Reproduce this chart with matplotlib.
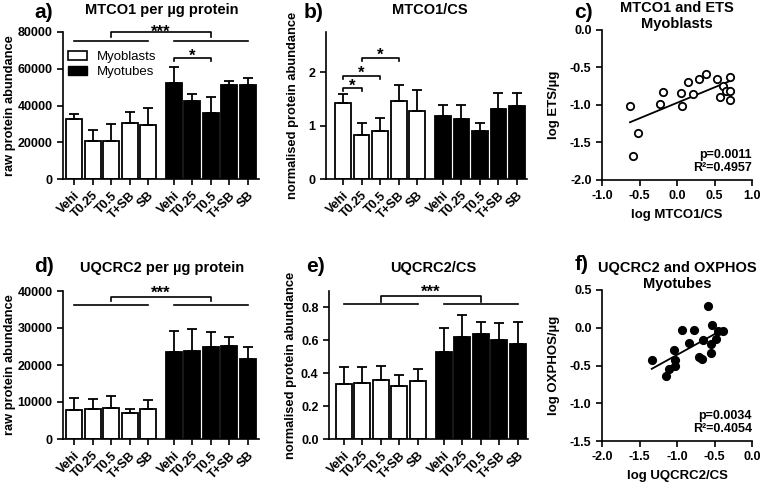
import numpy as np
import matplotlib
matplotlib.use('Agg')
import matplotlib.pyplot as plt
from matplotlib.patches import Patch

plt.rcParams['font.family'] = ['Liberation Sans', 'DejaVu Sans']
plt.rcParams['font.weight'] = 'bold'
plt.rcParams['axes.linewidth'] = 1.2

#data
groups = ['Vehi', 'T0.25', 'T0.5', 'T+SB', 'SB']

mtco1_raw_mb = [32500, 20500, 20800, 30500, 29500]
mtco1_raw_mb_err = [2700, 6000, 9300, 6000, 9200]
mtco1_raw_mt = [52300, 42500, 36000, 51300, 51000]
mtco1_raw_mt_err = [8800, 4000, 8600, 1800, 4200]

mtco1_cs_mb = [1.43, 0.83, 0.89, 1.46, 1.27]
mtco1_cs_mb_err = [0.16, 0.22, 0.26, 0.29, 0.39]
mtco1_cs_mt = [1.17, 1.13, 0.90, 1.31, 1.37]
mtco1_cs_mt_err = [0.22, 0.25, 0.14, 0.30, 0.24]

uqcrc2_raw_mb = [7800, 8200, 8300, 6900, 8200]
uqcrc2_raw_mb_err = [3400, 2600, 3200, 1200, 2400]
uqcrc2_raw_mt = [23500, 23800, 24800, 25200, 21500]
uqcrc2_raw_mt_err = [5700, 5800, 4000, 2300, 3300]

uqcrc2_cs_mb = [0.335, 0.34, 0.36, 0.325, 0.35]
uqcrc2_cs_mb_err = [0.105, 0.10, 0.085, 0.065, 0.075]
uqcrc2_cs_mt = [0.527, 0.621, 0.636, 0.60, 0.58]
uqcrc2_cs_mt_err = [0.15, 0.136, 0.073, 0.105, 0.13]

# c) scatter, myoblasts
mtco1_x = [-0.627, -0.516, -0.582, -0.227, -0.191, 0.053, 0.067, 0.151, 0.218,
           0.289, 0.391, 0.533, 0.613, 0.578, 0.702, 0.653, 0.711, 0.702]
ets_y = [-1.02, -1.38, -1.68, -0.987, -0.83, -0.845, -1.013, -0.70, -0.853,
         -0.658, -0.582, -0.649, -0.747, -0.898, -0.622, -0.818, -0.809, -0.938]

# f) scatter, myotubes
uqcrc2_x = [-1.337, -1.151, -1.111, -1.04, -1.027, -1.027, -0.933, -0.84, -0.769,
            -0.707, -0.662, -0.649, -0.591, -0.538, -0.547, -0.547, -0.48, -0.449, -0.382]
oxphos_y = [-0.427, -0.639, -0.551, -0.295, -0.427, -0.507, -0.030, -0.198, -0.030,
            -0.383, -0.414, -0.162, 0.288, 0.036, -0.220, -0.330, -0.145, -0.039, -0.039]

W, H = 760, 487
fig = plt.figure(figsize=(W / 100, H / 100), dpi=100)


def px_axes(left, top, right, bottom):
    return fig.add_axes([left / W, 1 - bottom / H, (right - left) / W, (bottom - top) / H])


def px_text(x, y, s, **kw):
    fig.text(x / W, 1 - y / H, s, **kw)


x_mb = np.arange(5)
x_mt = np.arange(5) + 5.4
x_all = np.concatenate([x_mb, x_mt])
TICK_FS = 9


def bar_panel(ax, mb, mb_err, mt, mt_err, ylim, yticks, xlim):
    ax.bar(x_mb, mb, width=0.86, color='white', edgecolor='black', linewidth=1.3)
    ax.bar(x_mt, mt, width=0.86, color='black', edgecolor='black', linewidth=1.3)
    ax.errorbar(x_mb, mb, yerr=[np.zeros(5), mb_err], fmt='none', ecolor='black',
                elinewidth=1.3, capsize=3.6, capthick=1.3)
    ax.errorbar(x_mt, mt, yerr=[np.zeros(5), mt_err], fmt='none', ecolor='black',
                elinewidth=1.3, capsize=3.6, capthick=1.3)
    ax.set_ylim(*ylim)
    ax.set_xlim(*xlim)
    ax.set_yticks(yticks)
    ax.set_xticks(x_all)
    ax.set_xticklabels(groups * 2, rotation=45, ha='right', rotation_mode='anchor',
                       fontsize=TICK_FS, fontweight='bold')
    ax.tick_params(axis='y', labelsize=TICK_FS, width=1.2, length=4)
    ax.tick_params(axis='x', width=1.2, length=4)
    ax.spines['top'].set_visible(False)
    ax.spines['right'].set_visible(False)


def bracket(ax, x1, x2, y, drop, text=None, tpad=0):
    ax.plot([x1, x1, x2, x2], [y - drop, y, y, y - drop], color='black', lw=1.2, clip_on=False)
    if text:
        ax.text((x1 + x2) / 2, y + tpad, text, ha='center', va='bottom',
                fontsize=12, fontweight='bold')


def hline(ax, x1, x2, y):
    ax.plot([x1, x2], [y, y], color='black', lw=1.2, clip_on=False)


#a
ax1 = px_axes(63, 32, 259, 179)
bar_panel(ax1, mtco1_raw_mb, mtco1_raw_mb_err, mtco1_raw_mt, mtco1_raw_mt_err,
          (0, 80000), [0, 20000, 40000, 60000, 80000], (-0.6, 10.0))
ax1.set_ylabel('raw protein abundance', fontsize=9.3, fontweight='bold', labelpad=1)
hline(ax1, x_mb[0], x_mb[4], 75000)
hline(ax1, x_mt[0], x_mt[4], 75000)
bracket(ax1, x_mb[2], x_mt[2], 80000, 2500, '***', -4200)
bracket(ax1, x_mt[0], x_mt[2], 66000, 2000, '*', -3200)
ax1.legend(handles=[Patch(facecolor='white', edgecolor='black', linewidth=1.2, label='Myoblasts'),
                    Patch(facecolor='black', edgecolor='black', label='Myotubes')],
           loc='upper left', bbox_to_anchor=(0.0, 0.91), frameon=False,
           prop={'size': 9.5, 'weight': 'normal'}, handlelength=1.4, handleheight=0.7,
           handletextpad=0.8, labelspacing=0.25, borderaxespad=0)

#b
ax2 = px_axes(326, 32, 527, 179)
bar_panel(ax2, mtco1_cs_mb, mtco1_cs_mb_err, mtco1_cs_mt, mtco1_cs_mt_err,
          (0, 2.75), [0, 1, 2], (-0.92, 9.94))
ax2.set_ylabel('normalised protein abundance', fontsize=9.3, fontweight='bold', labelpad=7)
bracket(ax2, x_mb[0], x_mb[1], 1.70, 0.06, '*', -0.1)
bracket(ax2, x_mb[0], x_mb[2], 1.93, 0.06, '*', -0.1)
bracket(ax2, x_mb[1], x_mb[3], 2.27, 0.06, '*', -0.1)

#d
ax4 = px_axes(63, 291, 259, 439)
bar_panel(ax4, uqcrc2_raw_mb, uqcrc2_raw_mb_err, uqcrc2_raw_mt, uqcrc2_raw_mt_err,
          (0, 40000), [0, 10000, 20000, 30000, 40000], (-0.6, 10.0))
ax4.set_ylabel('raw protein abundance', fontsize=9.3, fontweight='bold', labelpad=1)
hline(ax4, x_mb[0], x_mb[4], 36100)
hline(ax4, x_mt[0], x_mt[4], 36100)
bracket(ax4, x_mb[2], x_mt[2], 38500, 1300, '***', -1100)

#e
ax5 = px_axes(329, 291, 528, 439)
bar_panel(ax5, uqcrc2_cs_mb, uqcrc2_cs_mb_err, uqcrc2_cs_mt, uqcrc2_cs_mt_err,
          (0, 0.9), [0.0, 0.2, 0.4, 0.6, 0.8], (-0.8, 9.95))
ax5.set_yticklabels(['0.0', '0.2', '0.4', '0.6', '0.8'])
ax5.set_ylabel('normalised protein abundance', fontsize=9.3, fontweight='bold', labelpad=3)
hline(ax5, x_mb[0], x_mb[4], 0.818)
hline(ax5, x_mt[0], x_mt[4], 0.818)
bracket(ax5, x_mb[2], x_mt[2], 0.869, 0.035, '***', -0.025)


def scatter_panel(ax, xs, ys, filled, xlim, ylim, xticks, yticks, xlabel, ylabel, stats):
    ax.plot(xs, ys, 'o', ms=5.3, mfc='black' if filled else 'white', mec='black', mew=1.3,
            linestyle='none', zorder=3)
    k, b0 = np.polyfit(xs, ys, 1)
    xx = np.array([min(xs), max(xs)])
    ax.plot(xx, k * xx + b0, color='black', lw=1.3, zorder=2)
    ax.set_xlim(*xlim)
    ax.set_ylim(*ylim)
    ax.set_xticks(xticks)
    ax.set_yticks(yticks)
    ax.set_xticklabels(['%.1f' % v for v in xticks])
    ax.set_yticklabels(['%.1f' % v for v in yticks])
    ax.tick_params(labelsize=TICK_FS, width=1.2, length=4)
    ax.spines['top'].set_visible(False)
    ax.spines['right'].set_visible(False)
    ax.set_xlabel(xlabel, fontsize=9.5, fontweight='bold', labelpad=5)
    ax.set_ylabel(ylabel, fontsize=9.5, fontweight='bold', labelpad=7)
    ax.text(1.0, 0.04, stats, transform=ax.transAxes, ha='right', va='bottom',
            fontsize=9, fontweight='bold', linespacing=1.1)


#c
ax3 = px_axes(602, 30, 752, 180)
scatter_panel(ax3, mtco1_x, ets_y, False, (-1, 1), (-2, 0),
              [-1.0, -0.5, 0.0, 0.5, 1.0], [-2.0, -1.5, -1.0, -0.5, 0.0],
              'log MTCO1/CS', 'log ETS/µg', 'p=0.0011\nR²=0.4957')

#f
ax6 = px_axes(602, 290, 752, 441)
scatter_panel(ax6, uqcrc2_x, oxphos_y, True, (-2, 0), (-1.5, 0.5),
              [-2.0, -1.5, -1.0, -0.5, 0.0], [-1.5, -1.0, -0.5, 0.0, 0.5],
              'log UQCRC2/CS', 'log OXPHOS/µg', 'p=0.0034\nR²=0.4054')

# titles and panel letters
tkw = dict(ha='center', va='center', fontsize=10.5, fontweight='bold')
px_text(162, 10, 'MTCO1 per µg protein', **tkw)
px_text(430, 10, 'MTCO1/CS', **tkw)
px_text(677, 16, 'MTCO1 and ETS\nMyoblasts', linespacing=1.1, **tkw)
px_text(162, 268, 'UQCRC2 per µg protein', **tkw)
px_text(433, 268, 'UQCRC2/CS', **tkw)
px_text(677, 276, 'UQCRC2 and OXPHOS\nMyotubes', linespacing=1.1, **tkw)

lkw = dict(ha='left', va='center', fontsize=15, fontweight='bold')
px_text(34, 12, 'a)', **lkw)
px_text(304, 12, 'b)', **lkw)
px_text(574, 12, 'c)', **lkw)
px_text(34, 266, 'd)', **lkw)
px_text(306, 267, 'e)', **lkw)
px_text(575, 264, 'f)', **lkw)

plt.savefig('out.png', dpi=100)
